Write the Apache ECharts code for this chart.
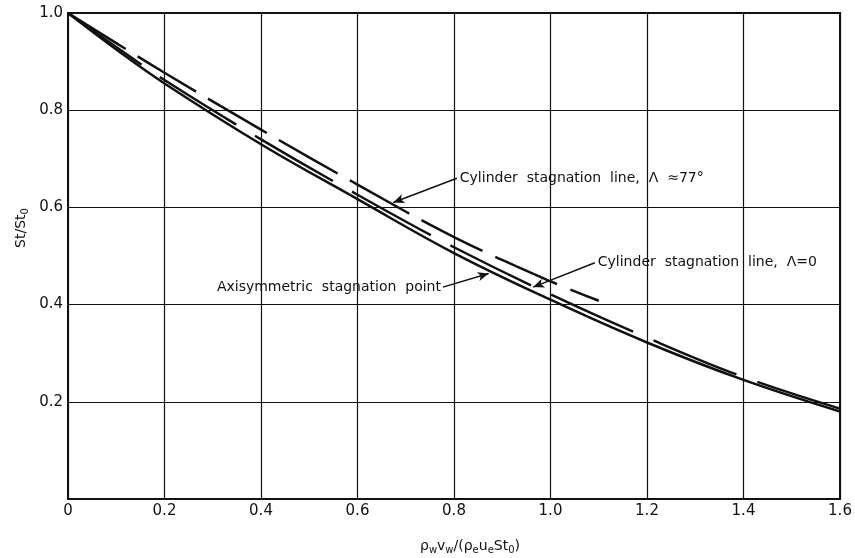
<!DOCTYPE html>
<html>
<head>
<meta charset="utf-8">
<script src="https://cdn.jsdelivr.net/npm/echarts@6/dist/echarts.min.js"></script>
<style>
html,body{margin:0;padding:0;background:#fff;}
#c{width:855px;height:558px;}
</style>
</head>
<body>
<div id="c"></div>
<script>
// ---- data ----
var xTicks = [0, 0.2, 0.4, 0.6, 0.8, 1.0, 1.2, 1.4, 1.6];
var yTicks = [0.2, 0.4, 0.6, 0.8, 1.0];

var axisymX = [0, 0.1, 0.2, 0.4, 0.6, 0.8, 1.0, 1.2, 1.4, 1.6];
var axisymY = [1.0, 0.925, 0.855, 0.73, 0.617, 0.506, 0.41, 0.322, 0.245, 0.18];

var cyl0X = [0, 0.1, 0.2, 0.4, 0.6, 0.8, 1.0, 1.2, 1.4, 1.6];
var cyl0Y = [1.0, 0.93, 0.862, 0.74, 0.626, 0.518, 0.421, 0.332, 0.251, 0.186];

var cyl77X = [0, 0.1, 0.2, 0.4, 0.6, 0.8, 1.0, 1.1];
var cyl77Y = [1.0, 0.938, 0.877, 0.76, 0.647, 0.539, 0.448, 0.408];

// annotation texts and arrows (data coordinates)
var labels = [
  {text: 'Cylinder  stagnation  line,  \u039B  \u224877\u00B0', x: 0.812, y: 0.660, align: 'left'},
  {text: 'Cylinder  stagnation  line,  \u039B=0', x: 1.098, y: 0.486, align: 'left'},
  {text: 'Axisymmetric  stagnation  point', x: 0.773, y: 0.436, align: 'right'}
];
var arrows = [
  {from: [0.806, 0.660], to: [0.674, 0.610]},
  {from: [1.092, 0.486], to: [0.964, 0.436]},
  {from: [0.777, 0.436], to: [0.872, 0.464]}
];

function pairs(xs, ys) { return xs.map(function (x, i) { return [x, ys[i]]; }); }

var INK = '#111';
var FONT = 'DejaVu Sans';

var chart = echarts.init(document.getElementById('c'));
var option = {
  animation: false,
  backgroundColor: '#fff',
  grid: {left: 68, right: 15, top: 13, bottom: 59, show: true, borderColor: INK, borderWidth: 2, backgroundColor: 'transparent'},
  xAxis: {
    type: 'value', min: 0, max: 1.6, interval: 0.2,
    axisLine: {show: true, lineStyle: {color: INK, width: 2}},
    axisTick: {show: false},
    splitLine: {show: true, lineStyle: {color: INK, width: 1.2}},
    axisLabel: {color: INK, fontSize: 15, fontFamily: FONT, margin: 5,
      formatter: function (v) { return v === 0 ? '0' : v.toFixed(1); }}
  },
  yAxis: {
    type: 'value', min: 0, max: 1.0, interval: 0.2,
    axisLine: {show: true, lineStyle: {color: INK, width: 2}},
    axisTick: {show: false},
    splitLine: {show: true, lineStyle: {color: INK, width: 1.2}},
    axisLabel: {color: INK, fontSize: 15, fontFamily: FONT, margin: 5,
      formatter: function (v) { return v === 0 ? '' : v.toFixed(1); }}
  },
  series: [
    {type: 'line', name: 'axisym', data: pairs(axisymX, axisymY), smooth: 0.4, showSymbol: false,
      lineStyle: {color: INK, width: 2.5}},
    {type: 'line', name: 'cyl0', data: pairs(cyl0X, cyl0Y), smooth: 0.4, showSymbol: false,
      lineStyle: {color: INK, width: 2.5, type: [90, 22]}},
    {type: 'line', name: 'cyl77', data: pairs(cyl77X, cyl77Y), smooth: 0.4, showSymbol: false,
      lineStyle: {color: INK, width: 2.5, type: [68, 14]},
      markLine: {
        silent: true, symbol: ['none', 'arrow'], symbolSize: [7, 11],
        lineStyle: {color: INK, width: 1.5, type: 'solid'}, label: {show: false},
        data: arrows.map(function (a) { return [{coord: a.from}, {coord: a.to}]; })
      }}
  ]
};
chart.setOption(option);

var g = [];
labels.forEach(function (l) {
  var p = chart.convertToPixel({gridIndex: 0}, [l.x, l.y]);
  g.push({type: 'text', x: p[0], y: p[1], silent: true,
    style: {text: l.text, fill: INK, font: '14px "' + FONT + '"', align: l.align, verticalAlign: 'middle'}});
});
// axis titles
g.push({type: 'text', x: 470, y: 546, silent: true,
  style: {text: '\u03C1{s|w}v{s|w}/(\u03C1{s|e}u{s|e}St{s|0})', align: 'center', verticalAlign: 'middle',
    fill: INK, font: '14px "' + FONT + '"',
    rich: {s: {fontSize: 10, fontFamily: FONT, fill: INK, padding: [8, 0, 0, 0]}}}});
g.push({type: 'text', x: 21, y: 228, rotation: Math.PI / 2, silent: true,
  style: {text: 'St/St{s|0}', align: 'center', verticalAlign: 'middle',
    fill: INK, font: '14px "' + FONT + '"',
    rich: {s: {fontSize: 10, fontFamily: FONT, fill: INK, padding: [8, 0, 0, 0]}}}});
chart.setOption({graphic: g});
</script>
</body>
</html>
